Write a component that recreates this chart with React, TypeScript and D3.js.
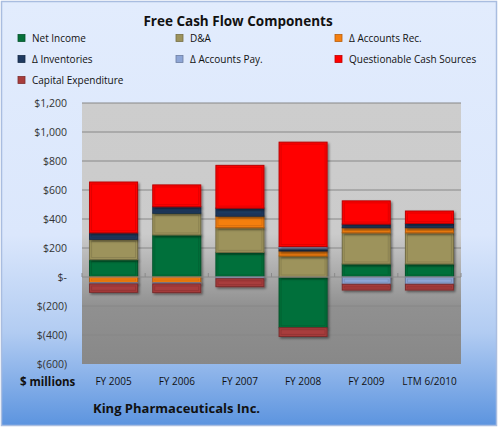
import React, { useEffect } from 'react';
import * as d3 from 'd3';

const categories = ['FY 2005', 'FY 2006', 'FY 2007', 'FY 2008', 'FY 2009', 'LTM 6/2010'];
const netIncome = [120, 290, 170, -350, 90, 90];
const dna = [140, 150, 170, 145, 215, 215];
const accountsRec = [-40, -40, 80, 35, 35, 35];
const inventories = [45, 45, 55, 15, 25, 30];
const accountsPay = [-8, -8, -12, 15, -50, -50];
const questionable = [350, 150, 295, 720, 160, 85];
const capex = [-58, -60, -55, -60, -40, -40];

const seriesNames = [
  'Net Income', 'D&A', 'Δ Accounts Rec.', 'Δ Inventories',
  'Δ Accounts Pay.', 'Questionable Cash Sources', 'Capital Expenditure',
];
const seriesValues = [netIncome, dna, accountsRec, inventories, accountsPay, questionable, capex];
const seriesColors = ['#06703a', '#9d935c', '#f57f10', '#1f3a60', '#8ea6d6', '#ff0000', '#a83c3c'];
const yTicks = [1200, 1000, 800, 600, 400, 200, 0, -200, -400, -600];

const W = 499;
const H = 427;
const plot = { left: 82, right: 461, top: 103, bottom: 364 };

const fmt = (v: number) => {
  if (v === 0) return '$-';
  const s = d3.format(',')(Math.abs(v));
  return v < 0 ? `$(${s})` : `$${s}`;
};

const App: React.FC = () => {
  useEffect(() => {
    document.body.style.margin = '0';
  }, []);

  const x = d3.scaleBand<string>().domain(categories).range([plot.left, plot.right]).paddingInner(0.24).paddingOuter(0.12);
  const y = d3.scaleLinear().domain([-600, 1200]).range([plot.bottom, plot.top]);

  const rows = categories.map((c, i) => {
    const r: Record<string, number | string> = { cat: c };
    seriesNames.forEach((n, k) => (r[n] = seriesValues[k][i]));
    return r;
  });
  const stacked = d3.stack<any>().keys(seriesNames).offset(d3.stackOffsetDiverging)(rows);

  const font = "'Open Sans', 'Noto Sans', sans-serif";
  const legendCols = [21, 179, 338];
  const legendRows = [38, 59, 80];

  return (
    <svg width={W} height={H} style={{ display: 'block', fontFamily: font }}>
      <defs>
        <linearGradient id="bg" x1="0" y1="0" x2="0" y2="1">
          <stop offset="0" stopColor="#e2ecfd" />
          <stop offset="0.55" stopColor="#dbe7fc" />
          <stop offset="0.78" stopColor="#b2ccf2" />
          <stop offset="1" stopColor="#5c94df" />
        </linearGradient>
        <linearGradient id="plotbg" x1="0" y1="0" x2="0" y2="1">
          <stop offset="0" stopColor="#cdcdcd" />
          <stop offset="0.5" stopColor="#cbcbcb" />
          <stop offset="0.78" stopColor="#909090" />
          <stop offset="1" stopColor="#888888" />
        </linearGradient>
        <filter id="shadow" x="-20%" y="-20%" width="140%" height="140%">
          <feDropShadow dx="1.5" dy="1.5" stdDeviation="1" floodColor="#000" floodOpacity="0.45" />
        </filter>
      </defs>
      <rect x={1.5} y={1.5} width={W - 4} height={H - 3} fill="url(#bg)" stroke="#a9bde0" strokeWidth={1.5} />

      <text x={238} y={26} textAnchor="middle" fontSize={13.5} fontWeight="bold" fill="#111">Free Cash Flow Components</text>

      {seriesNames.map((n, k) => {
        const lx = legendCols[k % 3];
        const ly = legendRows[Math.floor(k / 3)];
        return (
          <g key={n}>
            <rect x={lx - 3} y={ly - 3.5} width={7} height={7} fill={seriesColors[k]} stroke={d3.color(seriesColors[k])!.darker(0.8).toString()} strokeWidth={0.8} />
            <text x={lx + 11} y={ly + 3.5} fontSize={10} fill="#111">{n}</text>
          </g>
        );
      })}

      <rect x={plot.left} y={plot.top} width={plot.right - plot.left} height={plot.bottom - plot.top} fill="url(#plotbg)" />

      {yTicks.filter((t) => t !== 0 && t !== -600).map((t) => (
        <line key={t} x1={plot.left} x2={plot.right} y1={y(t)} y2={y(t)} stroke={t > 0 ? '#878787' : '#858585'} strokeWidth={t > 0 ? 1.2 : 0.8} />
      ))}

      {yTicks.map((t) => (
        <text key={t} x={67} y={y(t) + 4} textAnchor="end" fontSize={10.5} fill="#333">{fmt(t)}</text>
      ))}

      {stacked.map((s, k) => (
        <g key={s.key} filter="url(#shadow)">
          {s.map((d, i) => {
            const y0 = y(Math.max(d[0], d[1]));
            const y1 = y(Math.min(d[0], d[1]));
            const h = y1 - y0;
            if (h <= 0) return null;
            const bx = x(categories[i])!;
            const bw = x.bandwidth();
            const c = seriesColors[k];
            return (
              <g key={i}>
                <rect x={bx} y={y0} width={bw} height={h} fill={c} stroke={d3.color(c)!.darker(0.9).toString()} strokeWidth={1} />
                {h > 4 && (
                  <rect x={bx + 2} y={y0 + 2} width={bw - 4} height={h - 4} fill="none" stroke={d3.color(c)!.darker(0.35).toString()} strokeWidth={1} />
                )}
              </g>
            );
          })}
        </g>
      ))}

      <line x1={plot.left} x2={plot.right} y1={y(0)} y2={y(0)} stroke="#8a8a8a" strokeWidth={1} />
      {d3.range(categories.length + 1).map((i) => {
        const tx = plot.left + (i * (plot.right - plot.left)) / categories.length;
        return <line key={i} x1={tx} x2={tx} y1={y(0) - 4} y2={y(0)} stroke="#8a8a8a" strokeWidth={1} />;
      })}

      <text x={20} y={386} fontSize={11.5} fontWeight="bold" fill="#111">$ millions</text>
      {categories.map((c) => (
        <text key={c} x={x(c)! + x.bandwidth() / 2} y={385} textAnchor="middle" fontSize={10} fill="#111">{c}</text>
      ))}

      <text x={93} y={413} fontSize={13} fontWeight="bold" fill="#111">King Pharmaceuticals Inc.</text>
    </svg>
  );
};

export default App;
